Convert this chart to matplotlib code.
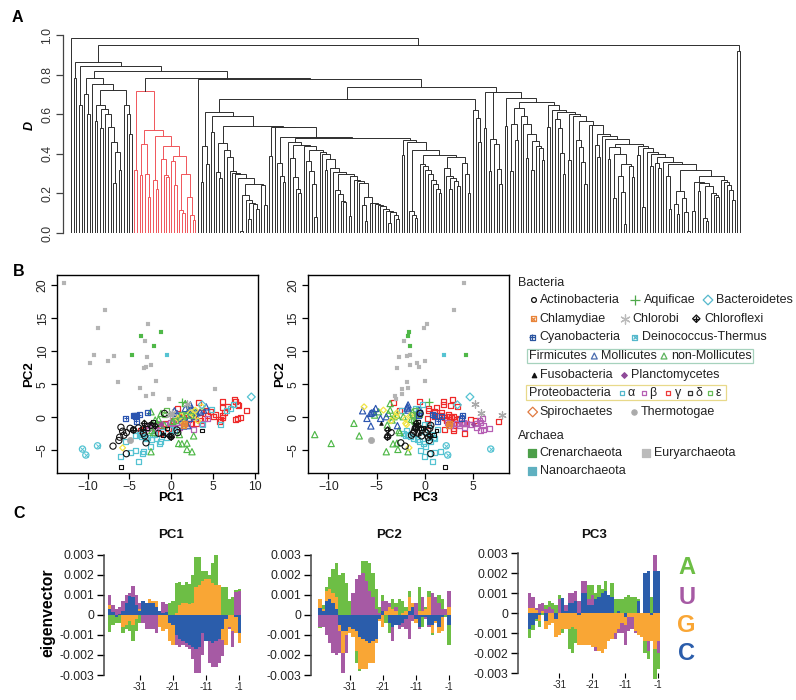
import numpy as np
import matplotlib
matplotlib.use("Agg")
import matplotlib.pyplot as plt

plt.rcParams['font.family'] = ['Liberation Sans', 'DejaVu Sans']
W, H = 796, 700
TXT = '#222222'

# ---- dendrogram, (height, left, right), L is a leaf
L = 0
k1 = (.785, (.70, L, (.60, L, L)),
      (.755, L, (.72, (.648, (.566, L, L), (.625, (.53, L, L), (.60, L, (.535, L, (.46, L, (.41, (.253, L, L), (.32, L, L))))))),
                 (.648, L, (.60, L, (.50, L, L))))))
red = (.715, (.32, L, L),
       (.52, (.447, (.295, L, L), (.30, L, (.18, L, L))),
        (.49, (.27, L, (.22, L, L)),
         (.438, (.375, L, (.295, L, (.285, L, L))),
          (.39, (.365, L, (.24, L, L)),
           (.298, (.118, L, (.103, L, L)), (.18, L, (.09, L, (.067, L, L)))))))))
r1 = (.477, (.313, L, L), (.452, L, (.322, L, (.245, L, L))))
r3 = (.63, (.553, (.313, L, L), (.47, L, L)),
      (.589, L, (.548, L, (.50, (.38, L, L), (.464, (.32, L, L), (.44, L, (.43, L, (.37, L, L))))))))
s15 = (.288, (.26, (.113, L, L), (.252, (.21, L, L), (.235, (.077, L, (.06, L, L)), (.2, L, (.19, L, (.18, L, L)))))),
       (.27, L, (.256, L, (.24, L, (.217, L, (.165, L, L))))))
s14 = (.212, (.148, L, (.097, L, L)), (.178, L, (.108, L, (.01, L, L))))
s13 = (.35, (.29, L, (.12, L, L)), (.32, s14, s15))
s12 = (.41, L, (.397, (.34, L, L), (.385, (.354, L, (.33, L, L)), (.36, L, s13))))
s11 = (.44, (.395, L, L), (.43, (.13, L, L), s12))
s10 = (.435, (.375, L, L), (.397, (.175, L, L), (.35, (.29, L, (.207, L, (.043, L, L))), (.34, L, (.283, L, L)))))
s5 = (.545, L, (.543, L, (.50, (.444, L, (.385, L, L)), (.49, L, (.475, L, (.448, s10, s11))))))
s4 = (.565, (.47, L, (.433, L, (.36, L, (.245, L, L)))), s5)
stair = (.61, (.575, L, (.531, L, (.405, L, (.30, L, L)))), (.60, (.37, L, L), (.59, L, s4)))
r4 = (.646, (.537, L, L), (.62, L, stair))
r2 = (.68, (.54, L, L), (.663, r3, r4))
big_right = (.712, (.528, L, L), (.71, r1, r2))

g2a = (.192, (.008, L, L), (.168, L, (.152, (.07, L, L), (.145, L, (.12, L, L)))))
g2 = (.457, (.31, L, (.28, L, L)),
      (.418, L, (.385, L, (.315, L, (.305, L, (.298, L, (.28, L, (.25, g2a, (.24, L, (.14, L, L))))))))))
g5tail = (.12, L, (.11, L, (.105, (.05, L, L), (.09, L, (.07, L, L)))))
g5end = (.18, (.14, L, (.06, L, L)),
         (.153, L, (.15, L, (.145, L, (.14, L, (.135, L, g5tail)))))) 
g5b = (.29, (.085, L, L), (.27, L, (.265, L, (.253, L, g5end))))
g5a = (.215, L, (.195, L, (.16, L, (.155, L, L))))
g4c = (.41, L, (.40, L, (.375, (.32, L, L), (.33, L, (.31, L, (.297, g5a, g5b))))))
g4 = (.462, L, (.445, (.38, L, (.285, L, (.22, L, (.2, L, L)))),
      (.44, L, (.42, (.365, L, (.315, L, (.25, L, (.08, L, L)))), g4c))))
g6 = (.35, L, (.34, L, (.32, L, (.30, L, (.27, L, (.25, L, (.22, L, (.20, L, L))))))))
g8 = (.33, L, (.29, L, (.28, (.22, L, L), (.265, L, (.235, L, L)))))
g9 = (.355, L, (.3, L, (.2, L, L)))
g5 = (.468, (.395, L, L), (.46, L, (.42, (.11, L, (.09, L, (.075, L, L))), (.395, g6, (.385, g8, g9)))))
g3 = (.536, (.39, L, L), (.533, L, (.487, (.354, L, (.288, L, (.26, L, L))), (.479, g4, g5))))
g1 = (.612, (.438, (.258, L, L), (.35, L, L)), (.59, (.51, L, L), (.54, g2, g3)))
big_left = (.678, g1, (.62, L, (.58, L, (.46, L, L))))
tree = (.985, L,
        (.95, (.862, (.785, L, L),
               (.845, (.645, L, L),
                (.82, k1, (.785, red, (.778, L, (.737, big_left, big_right)))))),
         (.92, L, L)))

# ---- PC scatter, (pc1, pc2, pc3)
euryarchaeota = [(-12.8, 20.4, 4.0), (-7.9, 16.2, 3.0), (-8.8, 13.5, -.15), (-2.8, 14.1, .25), (-3.15, 11.6, -2.2),
                 (-9.2, 9.5, -1.55), (-9.7, 8.3, -.85), (-7.5, 8.5, .05), (-6.8, 9.3, -1.85), (-2.9, 9.1, -2.7),
                 (-2.4, 7.9, -1.5), (-3.0, 7.7, -.6), (-3.2, 7.5, -2.9), (-1.8, 5.5, 0), (-6.3, 5.3, -1.85),
                 (-3.7, 4.4, -1.8), (-2.2, 3.6, -2.35), (-3.0, 3.3, -3.05), (-.3, 2.8, -2.95), (5.2, 4.3, -2.35)]
crenarchaeota = [(-3.55, 12.3, -1.8), (-1.25, 13, -1.7), (-2, 10.85, -1.5), (-4.65, 9.45, 4.2)]
nanoarchaeota = [(-.45, 9.45, 2)]
deinococcus = [(-10.6, -4.8, 6.8), (-10.2, -5.7, 2.35), (-8.8, -4.3, 2.2)]
bacteroidetes = [(9.6, 3.1, 4.65), (3.7, 1.9, 3.35)]
chlorobi = [(1.85, 2.1, 5.15), (.1, .65, 5.75), (-.1, .35, 8)]
thermotogae = [(-4.95, -3.4, -5.6)]
aquificae = [(1.3, 2.3, .4)]
cyanobacteria = [(-5.4, -.1, 3.8), (-4.5, .25, 1), (-4.15, .3, 3.85), (-3.8, .4, .8), (-4.3, .1, 1.7),
                 (-4.15, -.6, 1.3), (-2.8, .7, -.6), (-4.4, .35, -.7)]
mollicutes = [(.4, 1, -6.45), (2.3, 1.9, -1.75), (1.7, 1.35, -5.1), (2.4, 1.4, -1.85), (3.1, .7, -5.5), (4.2, 1.6, -1.8),
              (.7, .6, -5.65), (3.9, 1.1, -1.7), (1.1, -.15, -6), (3.5, .85, -5.3), (2.5, 1.1, -.6), (1.5, -1.3, -5.6),
              (2.2, -.15, -4.6), (3.0, .1, -4), (2.0, -1.25, -2.85)]
non_mollicutes = [(.9, -3.95, -9.7), (1.3, -4, -3.3), (1.9, -3.9, -2.9), (2.7, -2.8, -6.8), (-2.4, -5.2, -1.75),
                  (1.9, -4.85, -2.8), (2.5, -5.2, -4), (-2.4, .85, -4.8), (-1.7, -.9, -7.35), (-2.1, -2.3, -2.6),
                  (1.7, 2.1, -3.6), (2.1, 1.1, -3.6), (-1.5, -.3, -1.4), (1.0, -2.6, -11.4), (-1.2, .6, -3.8),
                  (-.8, -1.15, -3.9), (1.5, .1, -3.2), (2.5, .35, -5.2), (.5, .1, -2.25), (1.8, .35, -2.9),
                  (-1.9, -.4, -3.4), (-2.3, -2, -2.7), (.2, -.6, -1.0), (2.9, .8, -1.3)]
alpha = [(-3.85, -6.7, .8), (-3.3, -5.2, 1.6), (-3.45, -5.45, .5), (-4.9, -5.3, 1), (-6, -5.9, -.1), (-5.5, -3.7, -.6),
         (-4.3, -2.8, -2), (-3.5, -2.9, -1.5), (-2.3, -3.4, -.8), (-2.5, -4.45, .1), (-1.3, -3.7, .6), (-1.35, -3.95, -.15),
         (-1.7, -3.2, 1.0), (-3.1, -3.2, -1.2), (0, -1.9, 1.3), (5.9, -1.15, .4), (3.7, -1.15, -.1), (7.5, 1.9, -.3),
         (7.1, 1.35, -1.0), (4.8, 1.2, -.7), (-2.8, -3.0, .3), (-2.0, -2.6, .7), (-1.0, -2.2, .0), (.4, -2.0, -1.9),
         (-3.8, -2.6, -1.8), (-4.2, -5.0, -.5), (-3.4, -2.5, -2.2), (6.6, 1.0, -2.4), (-.6, -3.1, .9)]
beta = [(-2.6, -1.3, 3.6), (-2.2, -1.6, 4.1), (-1.4, -1, 4.3), (-.8, -1.1, 4.7), (.2, -.9, 5.3), (.6, -.8, 5.7),
        (1.4, -.7, 2.3), (2.7, -1.9, 6.1), (4.4, -.1, 5.9), (-2.0, -2.0, 5.7), (-2.8, -1.7, 6.7), (-3.0, -1.2, 6.0),
        (1.0, -1.5, 5.3), (3.6, -1.0, 3.3), (-1.8, -1.2, 2.6), (-.1, -.7, 4.0), (2.0, -1, 3.9), (.8, -.4, 5.6)]
gamma = [(6.1, 2.4, -.55), (6.1, 1.45, 1.15), (7.6, 2.7, 2.8), (7.7, 2.4, 1.9), (7.9, 2, 1.9), (8.1, 1.75, 2.6),
         (6.8, 1.7, 3.4), (9, 1, -2.65), (8.3, 0, 2.75), (8, -.2, 3.6), (7.7, -.3, 4.7), (6.4, .7, 1), (6.2, .35, 1.4),
         (6.1, 0, 2.05), (5.9, -.3, 2.2), (5.85, -.65, 7.6), (5.3, .5, 2.4), (4.7, .85, 1.0), (4.2, 1, .35), (4.4, .35, 1.7),
         (3.5, -.5, 5.2), (3.3, 2.3, -3.3), (2.7, .1, 1), (2.1, -.3, 3.3), (1.5, 0, 2.7), (1.7, -.9, 4.1), (3.1, -.9, 2.75),
         (.3, -.5, 2.2), (-.7, -.9, 3.3), (-.3, -1.7, 2.95), (-1.3, -1.3, .35), (-3.3, -1.9, 2.05), (-3.6, -2, 2.95),
         (-1.3, -2.5, 4.05), (1.1, .1, 2.5), (2.3, -.9, 3.0), (3.5, .7, 1.7), (5.1, .1, 3.0), (0.8, 1.35, 0.35), (4.0, -.2, .3)]
delta = [(-6, -7.5, 2.05), (3.7, -2, 1.2), (-2.2, -.6, -.7), (-1.0, -2.7, .9), (-.5, -1.7, -.4), (-2.9, -1.6, -.2)]
epsilon = [(1.6, -1, 2.5), (.5, -.5, -1.2), (-.8, .4, -1.3), (2.3, .3, -.9), (-.6, 1.0, -1.0), (1.2, .5, -.6)]
actinobacteria = [(-5.35, -5.5, .6), (-3, -3.85, -2.5), (-6.95, -4.35, -2.05), (-5.35, -2.3, -3.5), (0, -2.9, -3.85),
                  (-6, -1.5, -.9), (-5.8, -2.1, -1.1), (-6.15, -3, .35), (-5.65, -2.7, -1.4), (-6.25, -3.5, .45),
                  (-4.9, -1.65, .5), (-4.5, -1.9, -.3), (-3.3, -2.4, -1.2), (-3.15, -2.8, -.35), (.8, -2.3, .1),
                  (-1.5, -2.4, -.7), (.7, -1.9, .3), (-.8, .6, -.5), (-3.9, -1.6, -1.0), (-2.4, -1.2, .6)]
chloroflexi = [(-4.5, -1.9, -3.85), (-3.2, -.9, -.9), (-3.4, -1.7, -1), (0, -3, -3.9), (-.2, -2.8, .5), (-1.9, -1.3, -.7)]
fusobacteria = [(-2.5, -.8, -4.6), (-1.0, -2.4, -.6)]
planctomycetes = [(-1.2, -1.0, 5.0)]
chlamydiae = [(1.6, -.9, 2.5), (1.5, -1.2, 2.4)]
spirochaetes = [(-5.8, -4.6, -1.65), (3.7, 1.6, -6.3), (2.9, 1.1, -4.3), (1.5, -.9, -2), (1.6, -1.1, -1.9), (.8, -.2, -2.0),
                (2.7, .3, -1.5), (3.2, -.5, -3.5), (2.3, .7, -2.9), (1.2, .2, -3.0)]

ASTERISK = (6, 2, 0)
groups = [
    ('gamma', gamma, 's', '#ee2a2a', 'none', 13, .9),
    ('beta', beta, 's', '#b65fb4', 'none', 13, .9),
    ('alpha', alpha, 's', '#55c3d2', 'none', 13, .9),
    ('non', non_mollicutes, '^', '#4fb848', 'none', 20, .85),
    ('moll', mollicutes, '^', '#2b55b0', 'none', 20, .85),
    ('spiro', spirochaetes, 'D', '#f1e444', 'none', 9, .9),
    ('eps', epsilon, 's', '#66bb55', 'none', 13, .9),
    ('delta', delta, 's', '#111111', 'none', 7, .8),
    ('cyan', cyanobacteria, 's', '#2b55b0', 'none', 13, .9),
    ('chlam', chlamydiae, 's', '#e8843a', 'none', 13, .9),
    ('acti', actinobacteria, 'o', '#111111', 'none', 20, .8),
    ('flexi', chloroflexi, 'D', '#111111', 'none', 10, .9),
    ('deino', deinococcus, 'o', '#55c3d2', 'none', 20, .9),
    ('bactd', bacteroidetes, 'D', '#55c3d2', 'none', 16, .9),
    ('chlorobi', chlorobi, ASTERISK, '#aaaaaa', None, 28, .9),
    ('thermo', thermotogae, 'o', '#aaaaaa', '#aaaaaa', 20, .5),
    ('aqui', aquificae, '+', '#4fb848', None, 30, .9),
    ('fuso', fusobacteria, '^', '#111111', '#111111', 7, .5),
    ('planc', planctomycetes, 'D', '#a0479a', '#a0479a', 6, .5),
    ('eury', euryarchaeota, 's', '#b4b4b4', '#b4b4b4', 12, .1),
    ('creno', crenarchaeota, 's', '#4fb848', '#4fb848', 12, .1),
    ('nano', nanoarchaeota, 's', '#55c3d2', '#55c3d2', 12, .1),
]
overlays = {'deino': ('x', 9), 'cyan': ('+', 11), 'chlam': ('x', 8), 'flexi': ('+', 13)}

# ---- eigenvector loadings at positions -40 .. -1
positions = np.arange(-40, 0)
pc1_A = [-.00085, -.0005, -.0003, -.0004, -.0003, -.0002, -.0005, -.0008, -.0006, -.0004, 0, 0, 0, 0, 0, 0, 0, 0, .0006, .0007,
         .0015, .00115, .0009, .00105, .001, .0014, .0015, .0014, .0005, .0004, .0002, .001, .0015, 0, .0014, .0014, .0008, .0009, .0001, .0001]
pc1_U = [.0005, .00035, .0003, .00035, .0005, .0004, .00015, .00055, .0005, .0003, -.0004, -.0007, -.0007, -.0007, -.0009, 0, .00055, .0004, 0, 0,
         -.0005, -.0004, -.0002, -.0002, -.0002, -.0006, -.0012, -.0013, -.0011, 0, -.0011, -.0012, -.0013, -.0012, -.0008, 0, -.0001, -.0008, .00115, .0012]
pc1_G = [.0002, 0, 0, 0, -.0006, -.0005, -.0003, -.0005, -.0002, .0001, 0, 0, .0002, .0001, .0003, -.0006, -.0008, -.0007, -.0009, -.001,
         .0001, .0005, .0006, .0006, .00055, .0006, .0014, .0015, .0017, .0018, .0018, .0016, .0015, .0015, -.00055, -.0013, -.0006, -.0008, -.0008, -.0005]
pc1_C = [.0003, .00015, -.0001, .00005, .0002, .0006, .00095, .0009, .0005, .0002, .0007, .0006, .0006, .0006, .0004, .0002, .0001, .00015, -.0004, -.0005,
         -.001, -.0012, -.0013, -.0014, -.0015, -.0016, -.0017, -.0016, -.0009, -.0013, -.0013, -.0014, -.0013, -.0012, -.0007, -.0002, 0, 0, -.0001, -.0009]

pc2_A = [-.00005, .0002, .0002, .0006, .0012, .0017, .002, .0021, .0016, .0007, 0, -.0006, -.0001, .0006, .001, .0014, .0012, .001, .0003, .0003,
         -.0004, -.0005, .0005, .0002, .0008, .0006, .0002, .0003, 0, 0, .0012, -.0005, .0001, .0003, -.0001, 0, .0004, .0005, -.0001, -.001]
pc2_U = [-.0006, -.0006, -.001, -.0014, -.0019, -.002, -.0011, -.001, -.0009, 0, .0011, .0018, .002, .0021, .0017, .0012, .0009, .0003, .0001, .0005,
         .0005, .0002, -.0007, .0002, -.0002, -.0002, -.0005, -.0012, -.0003, .0006, -.0001, .0007, -.0001, -.0001, .0011, .0009, .0006, .0003, .0003, .0008]
pc2_G = [.00045, .0001, .0005, .0005, .0005, .0006, -.0003, -.0011, -.0002, -.0003, -.0004, -.001, -.0016, -.0015, -.0014, -.001, -.0011, -.0002, -.0001, -.0006,
         .0002, .0004, .0003, .0002, 0, .0001, .0002, .0007, .0002, -.0002, .0002, .0002, .0003, .0009, -.0004, -.0001, -.0003, -.0007, 0, .0004]
pc2_C = [.00035, .0002, .0007, .0008, .0006, .0003, -.0005, -.0008, -.0008, -.0006, -.0007, -.0008, -.0011, -.0012, -.0013, -.0014, -.0013, -.0012, -.0002, .0002,
         0, -.0004, -.0006, -.0005, -.0005, -.0004, -.0002, .0002, .0004, -.0002, -.0006, -.0001, -.0001, -.0005, -.0005, -.0003, -.0006, -.0001, 0, -.0005]

pc3_A = [-.00045, -.00025, -.0001, -.0003, -.0001, .0002, .0003, .0003, .0004, .0002, -.0002, 0, -.001, -.0013, -.0007, 0, 0, 0, .0007, .0005,
         .0003, .0006, .0002, .0005, 0, .0007, .0007, .0006, .0007, .0008, .0009, .0008, .0008, .0001, 0, -.0006, -.0004, .0008, -.0015, -.0008]
pc3_U = [.00075, .00055, .0001, .00045, .0004, .0002, .0003, .0002, 0, .0007, 0, .0003, .0005, .0005, .0005, .0006, .0006, .0006, .0003, .0005,
         -.0002, 0, 0, 0, 0, 0, -.0003, -.0002, -.0005, -.001, -.0007, -.0006, -.0001, 0, .0, 0, -.0005, 0, .0008, -.0006]
pc3_G = [.00025, .00025, .00015, -.0003, .0001, -.0004, -.0006, -.0005, -.0009, -.0011, -.0008, -.0008, -.0008, -.0007, -.0008, -.0015, -.0016, -.0016, -.0016, -.0017,
         -.0017, -.0019, -.002, -.0018, -.0014, -.0013, -.001, -.0008, -.0005, -.0004, -.0002, -.0002, -.0009, -.0011, -.0012, -.0014, -.0014, -.0013, -.0018, -.0014]
pc3_C = [-.0008, -.0006, -.0003, -.0001, 0, -.0004, 0, 0, -.0003, 0, .00075, .0001, .0005, .0005, .0006, -.0001, .001, .001, .0004, .0004,
         .0007, .0008, .001, .0011, .0009, .0008, 0, .0001, 0, -.0002, 0, 0, 0, .0006, 0, .002, .0021, -.0001, .0021, .0021]

nuc_colors = {'A': '#6dbe45', 'U': '#a65aa4', 'G': '#f9a635', 'C': '#2b5dab'}
panel_ticks = [-31, -21, -11, -1]
height_ticks = [0, .2, .4, .6, .8, 1]


def px_axes(fig, x0, y0, x1, y1):
    return fig.add_axes([x0 / W, 1 - y1 / H, (x1 - x0) / W, (y1 - y0) / H])


def count_leaves(node):
    if node == L:
        return 1
    return count_leaves(node[1]) + count_leaves(node[2])


def draw_node(ax, node, start, color):
    # returns x of the node and its height, leaves just go down to 0
    if node == L:
        return start, 0.0, start + 1
    if node is red:
        color = '#f0555a'
    h = node[0]
    xl, hl, nxt = draw_node(ax, node[1], start, color)
    xr, hr, nxt = draw_node(ax, node[2], nxt, color)
    ax.plot([xl, xl, xr, xr], [hl, h, h, hr], color=color, lw=.7, solid_joinstyle='miter')
    return (xl + xr) / 2, h, nxt


def plot_scatter(ax, col):
    for name, pts, marker, color, fill, size, lw in groups:
        pts = np.array(pts)
        if fill is None:
            ax.scatter(pts[:, col], pts[:, 1], marker=marker, s=size, c=color, linewidths=lw, zorder=3)
        else:
            ax.scatter(pts[:, col], pts[:, 1], marker=marker, s=size, edgecolors=color, facecolors=fill, linewidths=lw, zorder=3)
        if name in overlays:
            m, s = overlays[name]
            ax.scatter(pts[:, col], pts[:, 1], marker=m, s=s, c=color, linewidths=.7, zorder=3)
    ax.set_ylim(-8.42, 21.56)
    ax.set_yticks([-5, 0, 5, 10, 15, 20])
    ax.tick_params(length=4, width=.9, labelsize=8.7, pad=2, labelcolor=TXT)
    for lab in ax.get_yticklabels():
        lab.set_rotation(90)
        lab.set_va('center')
    for sp in ax.spines.values():
        sp.set_linewidth(1)


def plot_loadings(ax, A, U, G, C):
    pos_base = np.zeros(40)
    neg_base = np.zeros(40)
    for key, vals in (('C', C), ('G', G), ('U', U), ('A', A)):
        vals = np.array(vals)
        base = np.where(vals >= 0, pos_base, neg_base)
        ax.bar(positions, vals, width=1.0, bottom=base, color=nuc_colors[key], lw=0, clip_on=False)
        pos_base += np.clip(vals, 0, None)
        neg_base += np.clip(vals, None, 0)
    ax.set_ylim(-.003, .003)
    ax.set_yticks([-.003, -.002, -.001, 0, .001, .002, .003])
    ax.set_yticklabels(['-0.003', '-0.002', '-0.001', '0', '0.001', '0.002', '0.003'])
    ax.set_xticks(panel_ticks)
    ax.set_xticklabels([str(t) for t in panel_ticks], fontsize=7, color=TXT)
    ax.tick_params(axis='x', length=3.5, width=.8, pad=1.5)
    ax.tick_params(axis='y', length=5, width=1, labelsize=8.7, pad=2, labelcolor=TXT)
    for side in ('top', 'right', 'bottom'):
        ax.spines[side].set_visible(False)
    ax.spines['left'].set_linewidth(1.1)
    ax.spines['left'].set_color('#444444')
    ax.patch.set_visible(False)


fig = plt.figure(figsize=(W / 100, H / 100), dpi=100)

# A
ax_a = px_axes(fig, 63, 35, 745, 233)
n = count_leaves(tree)
sp = (740 - 71) / (n - 1)
draw_node(ax_a, tree, 0, '#2e2e2e')
ax_a.set_xlim(-(71 - 63) / sp, (745 - 71) / sp)
ax_a.set_ylim(0, 1)
ax_a.set_yticks(height_ticks)
ax_a.set_yticklabels(['0.0', '0.2', '0.4', '0.6', '0.8', '1.0'], rotation=90, va='center', fontsize=8.7, color='#333333')
ax_a.tick_params(axis='y', length=5, width=.9, pad=2, color='#444444')
ax_a.set_xticks([])
for side in ('top', 'right', 'bottom'):
    ax_a.spines[side].set_visible(False)
ax_a.spines['left'].set_color('#444444')
ax_a.spines['left'].set_linewidth(.9)
ax_a.patch.set_visible(False)

# B
ax_b1 = px_axes(fig, 57, 275, 258, 473)
plot_scatter(ax_b1, 0)
ax_b1.set_xlim(-13.65, 10.4)
ax_b1.set_xticks([-10, -5, 0, 5, 10])
ax_b2 = px_axes(fig, 307.7, 275, 509.3, 473)
plot_scatter(ax_b2, 2)
ax_b2.set_xlim(-12.13, 8.72)
ax_b2.set_xticks([-10, -5, 0, 5])

# C
ax_c1 = px_axes(fig, 104, 554.5, 245, 675)
plot_loadings(ax_c1, pc1_A, pc1_U, pc1_G, pc1_C)
ax_c1.set_xlim(-1 - (239.3 - 104) / 3.32, -1 + (245 - 239.3) / 3.32)
ax_c2 = px_axes(fig, 310.7, 554.5, 455, 675)
plot_loadings(ax_c2, pc2_A, pc2_U, pc2_G, pc2_C)
ax_c2.set_xlim(-1 - (449 - 310.7) / 3.31, -1 + (455 - 449) / 3.31)
ax_c3 = px_axes(fig, 518.3, 553, 664, 673)
plot_loadings(ax_c3, pc3_A, pc3_U, pc3_G, pc3_C)
ax_c3.set_xlim(-1 - (658.3 - 518.3) / 3.3, -1 + (664 - 658.3) / 3.3)

# overlay in pixel coordinates, for all the loose text and the legend
ov = fig.add_axes([0, 0, 1, 1])
ov.set_xlim(0, W)
ov.set_ylim(H, 0)
ov.axis('off')
ov.patch.set_visible(False)


def txt(x, y, s, **kw):
    kw.setdefault('fontsize', 9)
    kw.setdefault('color', TXT)
    kw.setdefault('va', 'center')
    ov.text(x, y, s, **kw)


for x, y, s in ((17, 17, 'A'), (19, 272, 'B'), (19, 514, 'C')):
    txt(x, y, s, fontsize=11.5, fontweight='bold', color='black', ha='center')
txt(30, 125, 'D', fontsize=9, fontweight='bold', style='italic', rotation=90, ha='center', color='black')
for x, y, s, rot in ((171, 498, 'PC1', 0), (425, 498, 'PC3', 0), (29, 374, 'PC2', 90), (280, 374, 'PC2', 90)):
    txt(x, y, s, fontsize=9.5, fontweight='bold', rotation=rot, ha='center', color='black')
for x, s in ((171, 'PC1'), (389, 'PC2'), (593.7, 'PC3')):
    txt(x, 535, s, fontsize=9.5, fontweight='bold', ha='center', color='#111111')
txt(48, 613, 'eigenvector', fontsize=11.3, fontweight='bold', rotation=90, ha='center', color='black')
for y, s in ((568, 'A'), (597, 'U'), (625, 'G'), (653, 'C')):
    txt(686.7, y, s, fontsize=17, fontweight='bold', color=nuc_colors[s], ha='center')

ov.add_patch(plt.Rectangle((527.3, 349), 225.4, 14.3, fill=False, ec='#a6d2bd', lw=.9))
ov.add_patch(plt.Rectangle((526, 385.3), 199.7, 15, fill=False, ec='#e8d98a', lw=.9))

txt(518, 283, 'Bacteria')
txt(518, 436, 'Archaea')
plain_labels = [(539.7, 300, 'Actinobacteria'), (644, 300, 'Aquificae'), (716.3, 300, 'Bacteroidetes'),
                (539.7, 318.7, 'Chlamydiae'), (632.7, 318.7, 'Chlorobi'), (704.3, 318.7, 'Chloroflexi'),
                (539.7, 337.3, 'Cyanobacteria'), (642.3, 337.3, 'Deinococcus-Thermus'),
                (529.3, 356, 'Firmicutes'), (600.7, 356, 'Mollicutes'), (670.7, 356, 'non-Mollicutes'),
                (539.7, 374.7, 'Fusobacteria'), (631.3, 374.7, 'Planctomycetes'),
                (528.7, 393.3, 'Proteobacteria'), (627, 393.3, 'α'), (649.3, 393.3, 'β'), (675, 393.3, 'γ'),
                (696, 393.3, 'δ'), (715.7, 393.3, 'ε'),
                (539.7, 412, 'Spirochaetes'), (640.7, 412, 'Thermotogae'),
                (539.7, 453, 'Crenarchaeota'), (654.3, 453, 'Euryarchaeota'), (539.7, 471, 'Nanoarchaeota')]
for x, y, s in plain_labels:
    txt(x, y, s)

legend_marks = [(534, 300, 'o', '#111111', 'none', 12), (635.3, 300, '+', '#4fa84a', None, 60), (708, 300, 'D', '#55b8cc', 'none', 24),
                (533.3, 318.7, 's', '#e8843a', 'none', 14), (533.3, 318.7, 'x', '#e8843a', None, 8),
                (625.3, 318.7, ASTERISK, '#bbbbbb', None, 45), (696.3, 318.7, 'D', '#111111', 'none', 14), (696.3, 318.7, '+', '#111111', None, 16),
                (532.3, 337.3, 's', '#2b55a0', 'none', 14), (532.3, 337.3, '+', '#2b55a0', None, 14),
                (634.7, 337.3, 's', '#55b8cc', 'none', 14), (634.7, 337.3, 'x', '#55b8cc', None, 8),
                (594.3, 356, '^', '#4a6cae', 'none', 18), (664, 356, '^', '#5cb35c', 'none', 18),
                (533.7, 374.7, '^', '#111111', '#111111', 10), (624.3, 374.7, 'D', '#8f4a99', '#8f4a99', 8),
                (621.7, 393.3, 's', '#55b8cc', 'none', 10), (644.3, 393.3, 's', '#b65fb4', 'none', 10), (668.3, 393.3, 's', '#ee3a3a', 'none', 10),
                (690.3, 393.3, 's', '#333333', 'none', 10), (710.3, 393.3, 's', '#66bb55', 'none', 10),
                (532.7, 412, 'D', '#e07a40', 'none', 24), (634, 412, 'o', '#aaaaaa', '#aaaaaa', 14),
                (531.7, 453, 's', '#4c9f49', '#4c9f49', 26), (646, 453, 's', '#bbbbbb', '#bbbbbb', 26), (531.7, 471, 's', '#5fb0c0', '#5fb0c0', 26)]
for x, y, m, col, fc, size in legend_marks:
    if fc is None:
        ov.scatter([x], [y], marker=m, s=size, c=col, linewidths=.9)
    else:
        ov.scatter([x], [y], marker=m, s=size, edgecolors=col, facecolors=fc, linewidths=.9)

fig.savefig('out.png', dpi=100)
